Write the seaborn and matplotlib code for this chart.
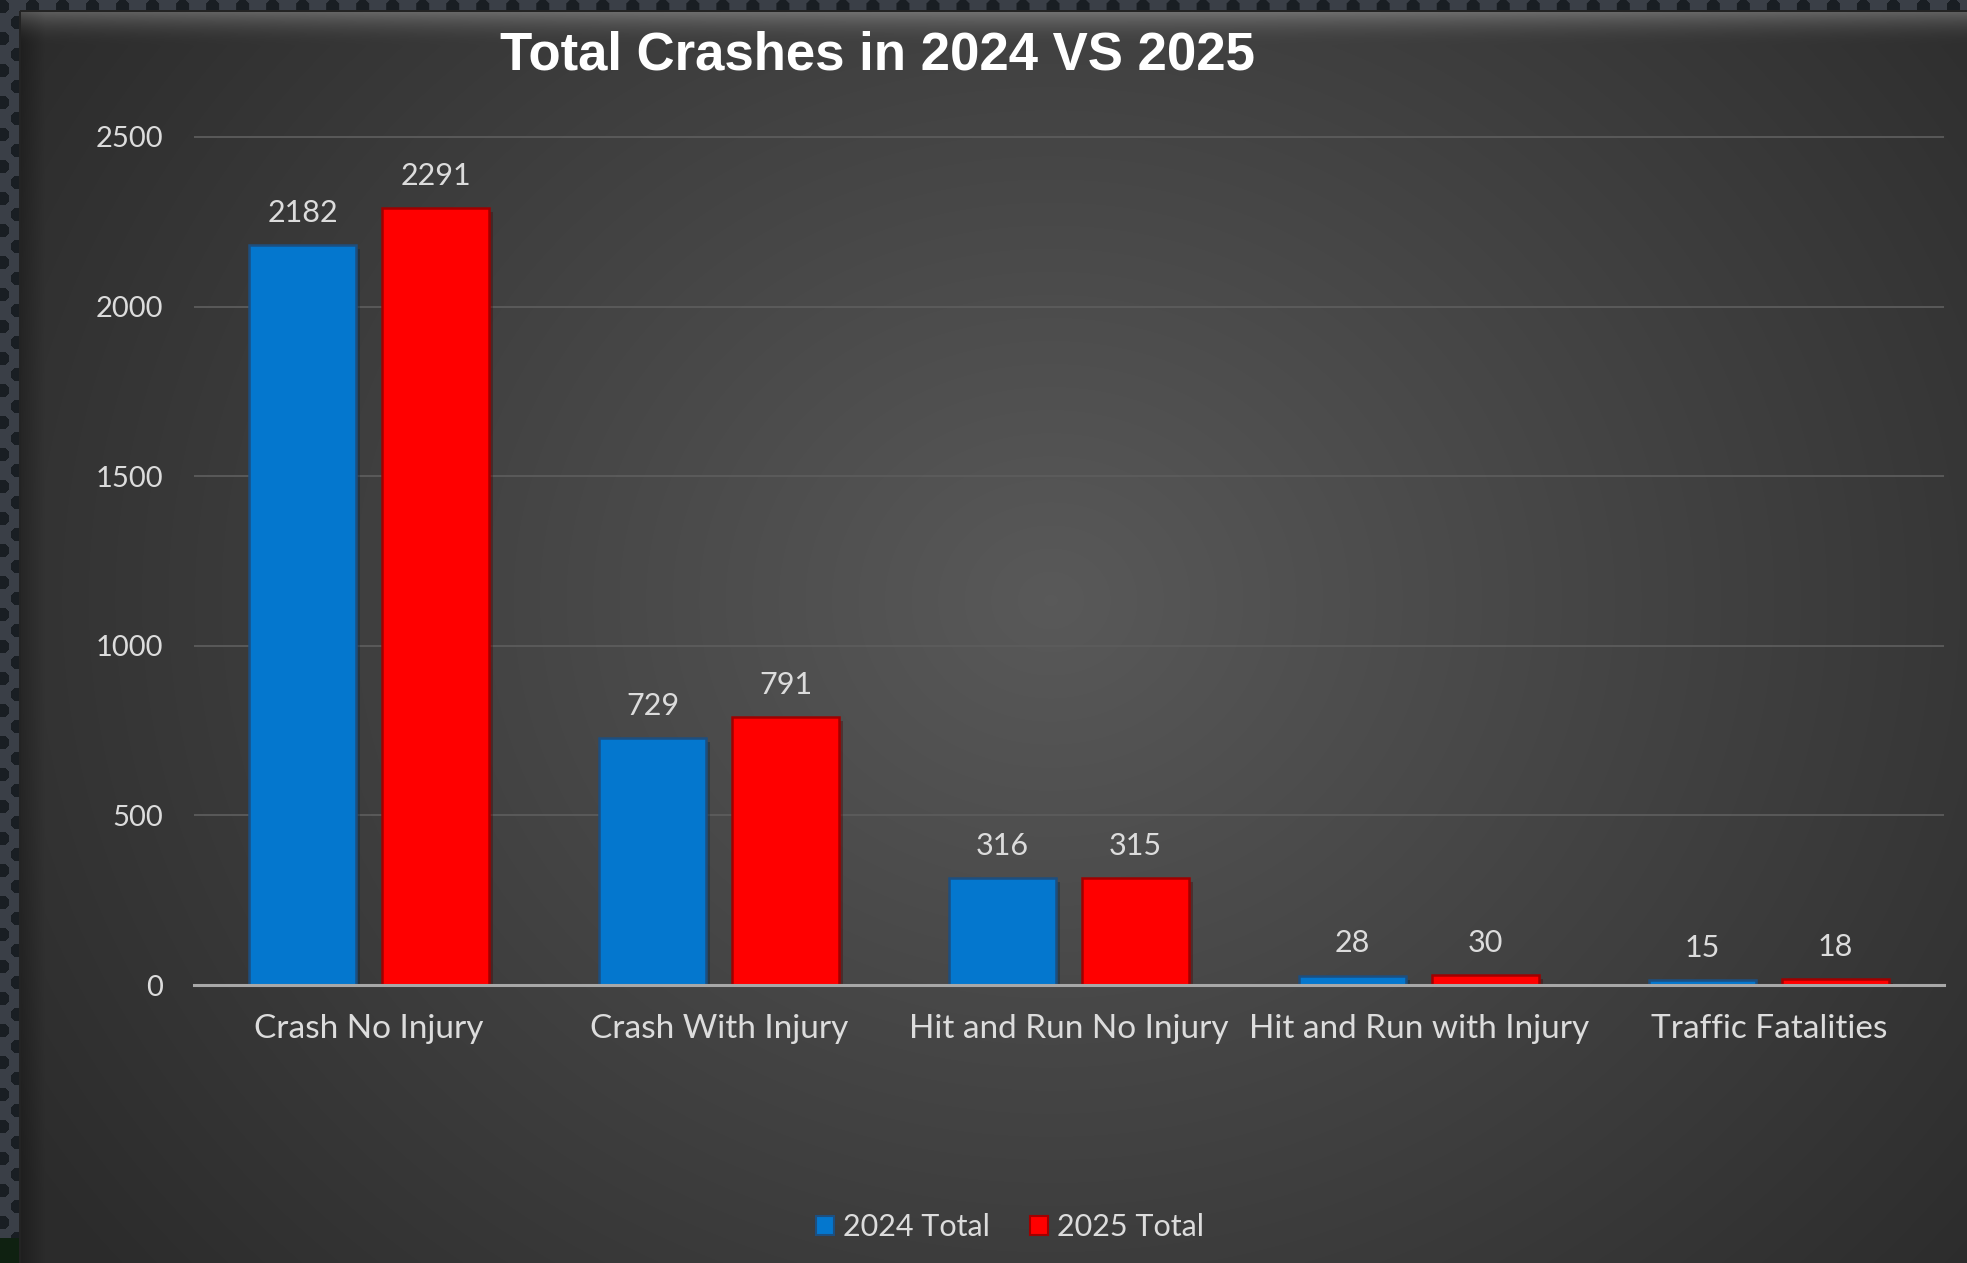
import numpy as np
import pandas as pd
import matplotlib
matplotlib.use("Agg")
import matplotlib.pyplot as plt
import seaborn as sns
from matplotlib import patheffects
from matplotlib.patches import Patch

# chart data
categories = ["Crash No Injury", "Crash With Injury", "Hit and Run No Injury",
              "Hit and Run with Injury", "Traffic Fatalities"]
totals_2024 = [2182, 729, 316, 28, 15]
totals_2025 = [2291, 791, 315, 30, 18]
series_names = ["2024 Total", "2025 Total"]
y_ticks = [0, 500, 1000, 1500, 2000, 2500]
title = "Total Crashes in 2024 VS 2025"

W, H = 1967, 1263
TEXT = "#dcdcdc"
FONT = ["Lato", "DejaVu Sans"]


def make_background():
    yy, xx = np.mgrid[0:H, 0:W].astype(float)
    # radial grey gradient of the panel
    d = np.sqrt(((xx - 1050) / 1150) ** 2 + ((yy - 600) / 1000) ** 2)
    val = np.clip(0.35 - 0.17 * d, 0.17, 0.4)
    # bevel on top and left edge of the panel
    top = np.clip(1 - (yy - 11) / 35, 0, 1) * (yy >= 11)
    val = val + 0.2 * top ** 2
    left = np.clip(1 - (xx - 20) / 25, 0, 1) * (xx >= 20)
    val = val - 0.05 * left
    img = np.dstack([val, val, val])

    # perforated metal border
    border = (yy < 11) | (xx < 20)
    px, py = 30.0, 32.0
    dx1 = (xx - 2) % px - px / 2
    dy1 = (yy - 6) % py - py / 2
    dx2 = (xx - 17) % px - px / 2
    dy2 = (yy - 22) % py - py / 2
    dots = (dx1 ** 2 + dy1 ** 2 < 49) | (dx2 ** 2 + dy2 ** 2 < 49)
    base = np.array([0.23, 0.25, 0.28])
    dark = np.array([0.10, 0.12, 0.14])
    pat = np.where(dots[..., None], dark, base)
    img = np.where(border[..., None], pat, img)
    green = (xx < 20) & (yy > 1237)
    img[green] = [0.06, 0.13, 0.07]
    edge = ((yy >= 10) & (yy < 12) & (xx >= 20)) | ((xx >= 19) & (xx < 21) & (yy >= 11))
    img[edge] = [0.14, 0.14, 0.14]
    return np.clip(img, 0, 1)


def draw_figure(df):
    fig = plt.figure(figsize=(W / 100, H / 100), dpi=100)
    bg_ax = fig.add_axes([0, 0, 1, 1])
    bg_ax.imshow(make_background(), aspect="auto", interpolation="bilinear")
    bg_ax.axis("off")

    ax = fig.add_axes([194 / W, (H - 985) / H, (1944 - 194) / W, 882 / H])
    ax.patch.set_alpha(0)

    sns.barplot(
        data=df, x="Category", y="Crashes", hue="Series",
        palette=["#0477CE", "#FF0000"], saturation=1,
        width=0.76, gap=0.2, errorbar=None, legend=False, ax=ax
    )

    edge_colors = ["#1d4f80", "#a00000"]
    for cont, ec in zip(ax.containers, edge_colors):
        for bar in cont.patches:
            bar.set_edgecolor(ec)
            bar.set_linewidth(1.8)
            bar.set_path_effects([
                patheffects.SimplePatchShadow(offset=(3, -3), alpha=0.35),
                patheffects.Normal(),
            ])
        labels = ax.bar_label(cont, padding=13, color=TEXT, fontsize=22)
        for t in labels:
            t.set_family(FONT)

    ax.set_ylim(0, 2600)
    ax.set_xlim(-0.5, len(categories) - 0.5)
    ax.set_yticks(y_ticks)
    ax.yaxis.grid(True, color="#5c5c5c", linewidth=1.3)
    ax.xaxis.grid(False)
    ax.set_axisbelow(True)
    for side in ["top", "right", "left"]:
        ax.spines[side].set_visible(False)
    ax.spines["bottom"].set_color("#a8a8a8")
    ax.spines["bottom"].set_linewidth(2.2)
    ax.spines["bottom"].set_zorder(5)
    ax.tick_params(axis="y", length=0, pad=22, labelsize=21, labelcolor=TEXT)
    ax.tick_params(axis="x", length=0, pad=21, labelsize=24, labelcolor=TEXT)
    for t in ax.get_xticklabels() + ax.get_yticklabels():
        t.set_family(FONT)
    ax.set_xlabel("")
    ax.set_ylabel("")

    fig.text(878 / W, 1 - 56 / H, title, ha="center", va="center",
             fontsize=38, fontweight="bold", color="white",
             family=["Liberation Sans", "DejaVu Sans"])

    handles = [Patch(facecolor="#0477CE", edgecolor="#1d4f80", linewidth=1.5),
               Patch(facecolor="#FF0000", edgecolor="#a00000", linewidth=1.5)]
    fig.legend(handles, series_names, loc="center",
               bbox_to_anchor=(1010 / W, (H - 1227) / H), ncol=2, frameon=False,
               handlelength=0.6, handleheight=0.6, handletextpad=0.3,
               columnspacing=1.3, labelcolor=TEXT,
               prop={"family": FONT, "size": 22})

    fig.savefig("out.png", dpi=100)


def main():
    df = pd.DataFrame({
        "Category": categories * 2,
        "Crashes": totals_2024 + totals_2025,
        "Series": [series_names[0]] * len(categories) + [series_names[1]] * len(categories),
    })
    draw_figure(df)


if __name__ == "__main__":
    main()
